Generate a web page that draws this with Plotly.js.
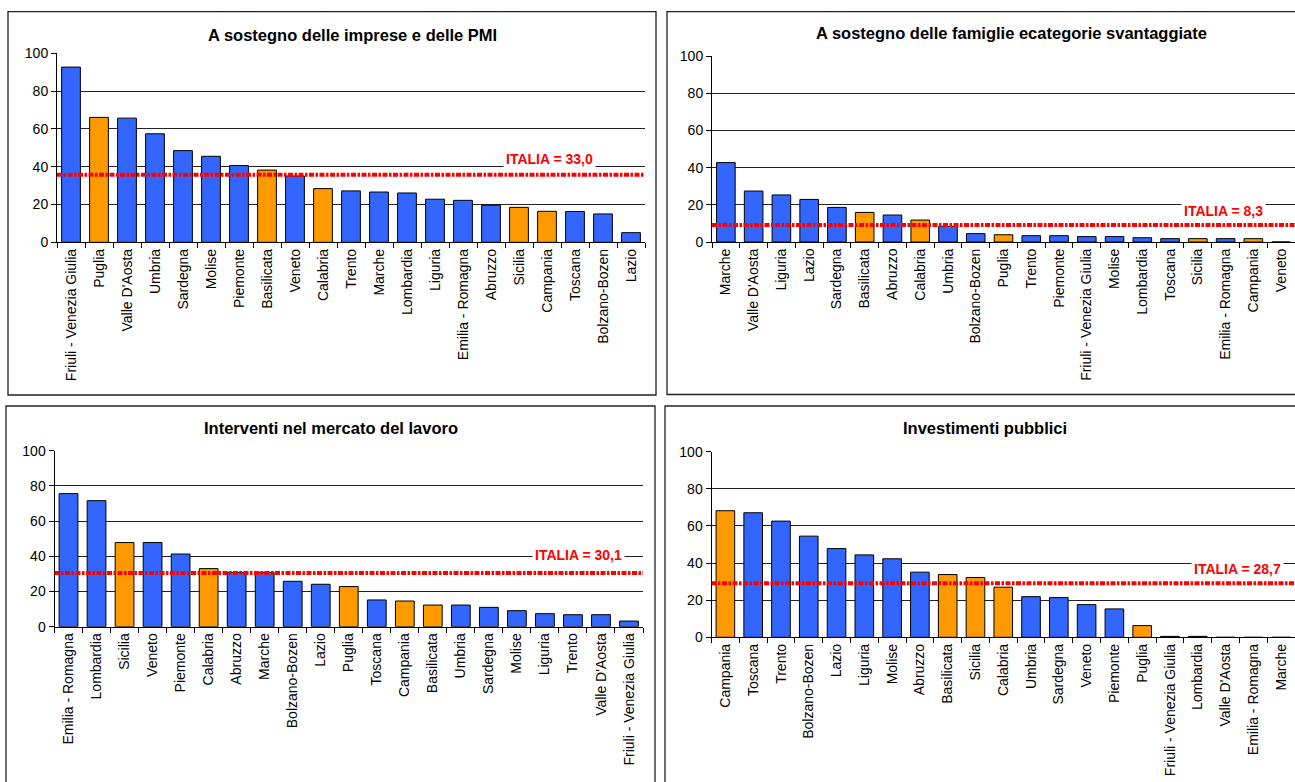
<!DOCTYPE html>
<html>
<head>
<meta charset="utf-8">
<script src="https://cdn.plot.ly/plotly-3.0.1.min.js"></script>
<style>
  html, body { margin: 0; padding: 0; background: #ffffff; }
  #chart { width: 1295px; height: 782px; }
</style>
</head>
<body>
<div id="chart"></div>
<script>
// ---------- DATA ----------
const titles = [
  "A sostegno delle imprese e delle PMI",
  "A sostegno delle famiglie ecategorie svantaggiate",
  "Interventi nel mercato del lavoro",
  "Investimenti pubblici"
];

const regionsImprese = ["Friuli - Venezia Giulia","Puglia","Valle D'Aosta","Umbria","Sardegna","Molise","Piemonte","Basilicata","Veneto","Calabria","Trento","Marche","Lombardia","Liguria","Emilia - Romagna","Abruzzo","Sicilia","Campania","Toscana","Bolzano-Bozen","Lazio"];
const valuesImprese = [92.7, 66.1, 65.7, 57.4, 48.5, 45.5, 40.6, 38.2, 35.1, 28.4, 27.2, 26.6, 26.1, 22.8, 22.2, 19.6, 18.5, 16.4, 16.3, 15.0, 5.1];

const regionsFamiglie = ["Marche","Valle D'Aosta","Liguria","Lazio","Sardegna","Basilicata","Abruzzo","Calabria","Umbria","Bolzano-Bozen","Puglia","Trento","Piemonte","Friuli - Venezia Giulia","Molise","Lombardia","Toscana","Sicilia","Emilia - Romagna","Campania","Veneto"];
const valuesFamiglie = [42.7, 27.4, 25.3, 22.9, 18.6, 15.9, 14.5, 11.8, 8.4, 4.5, 3.9, 3.4, 3.4, 2.9, 2.9, 2.3, 1.8, 1.8, 1.8, 1.8, 0];

const regionsLavoro = ["Emilia - Romagna","Lombardia","Sicilia","Veneto","Piemonte","Calabria","Abruzzo","Marche","Bolzano-Bozen","Lazio","Puglia","Toscana","Campania","Basilicata","Umbria","Sardegna","Molise","Liguria","Trento","Valle D'Aosta","Friuli - Venezia Giulia"];
const valuesLavoro = [75.6, 71.6, 47.8, 47.8, 41.3, 33.0, 30.9, 30.9, 25.8, 24.1, 22.8, 15.2, 14.6, 12.3, 12.3, 11.0, 9.1, 7.4, 6.8, 6.8, 3.2];

const regionsInvestimenti = ["Campania","Toscana","Trento","Bolzano-Bozen","Lazio","Liguria","Molise","Abruzzo","Basilicata","Sicilia","Calabria","Umbria","Sardegna","Veneto","Piemonte","Puglia","Friuli - Venezia Giulia","Lombardia","Valle D'Aosta","Emilia - Romagna","Marche"];
const valuesInvestimenti = [68.2, 67.1, 62.6, 54.5, 47.8, 44.4, 42.3, 35.1, 33.8, 32.2, 27.0, 21.9, 21.4, 17.6, 15.3, 6.3, 0.5, 0.5, 0, 0, 0];

// Regions drawn in orange (Mezzogiorno)
const southRegions = ["Puglia","Basilicata","Calabria","Sicilia","Campania"];

// Italy average: label value and level of the dashed line as drawn
const italiaLabels = ["33,0", "8,3", "30,1", "28,7"];
const italiaLineLevel = [35.8, 9.1, 30.5, 29.1];

const yTickVals = [0, 20, 40, 60, 80, 100];

// ---------- LAYOUT ----------
const W = 1295, H = 782;
const px = x => x / W;
const py = y => 1 - y / H;

const BLUE = "#3366FF", ORANGE = "#FF9900", RED = "#FF0000";
const FONT = "Liberation Sans, Arial, sans-serif";

const panels = [
  { cats: regionsImprese, vals: valuesImprese,
    plot: { x0: 57, x1: 645, yTop: 53.3, yBot: 242.3 },
    box: { x0: 8, x1: 656, y0: 11.7, y1: 395 },
    title: { x: 352, y: 35 },
    label: { x: 549, y: 159 } },
  { cats: regionsFamiglie, vals: valuesFamiglie,
    plot: { x0: 712, x1: 1295, yTop: 56, yBot: 242 },
    box: { x0: 667, x1: 1310, y0: 11.7, y1: 394.5 },
    title: { x: 1012, y: 33 },
    label: { x: 1223, y: 211 } },
  { cats: regionsLavoro, vals: valuesLavoro,
    plot: { x0: 54.5, x1: 643, yTop: 450.7, yBot: 626.7 },
    box: { x0: 6, x1: 655, y0: 406, y1: 800 },
    title: { x: 331, y: 428 },
    label: { x: 578, y: 555 } },
  { cats: regionsInvestimenti, vals: valuesInvestimenti,
    plot: { x0: 711.5, x1: 1295, yTop: 451.7, yBot: 637.3 },
    box: { x0: 665, x1: 1310, y0: 406, y1: 800 },
    title: { x: 985, y: 428 },
    label: { x: 1237, y: 569 } }
];

const data = [];
const layout = {
  width: W, height: H, autosize: false,
  margin: { l: 0, r: 0, t: 0, b: 0, pad: 0 },
  paper_bgcolor: "#ffffff", plot_bgcolor: "#ffffff",
  showlegend: false,
  bargap: 0.33,
  font: { family: FONT, size: 14, color: "#000000" },
  shapes: [], annotations: []
};

panels.forEach((p, i) => {
  const n = i === 0 ? "" : String(i + 1);
  const xa = "x" + n, ya = "y" + n;
  data.push({
    type: "bar",
    x: p.cats, y: p.vals,
    xaxis: xa, yaxis: ya,
    marker: {
      color: p.cats.map(c => southRegions.includes(c) ? ORANGE : BLUE),
      line: { color: "#000000", width: 1 }
    },
    hoverinfo: "x+y"
  });
  layout["xaxis" + n] = {
    domain: [px(p.plot.x0), Math.min(1, px(p.plot.x1))],
    anchor: ya,
    type: "category",
    range: [-0.5, p.cats.length - 0.5],
    showline: true, linecolor: "#000000", linewidth: 1,
    ticks: "outside", tickson: "boundaries", ticklen: 5, tickcolor: "#000000",
    tickangle: -90,
    tickfont: { family: FONT, size: 14, color: "#000000" },
    showgrid: false, zeroline: false, fixedrange: true
  };
  layout["yaxis" + n] = {
    domain: [py(p.plot.yBot), py(p.plot.yTop)],
    anchor: xa,
    range: [0, 100],
    tickvals: yTickVals,
    showline: true, linecolor: "#000000", linewidth: 1,
    ticks: "outside", ticklen: 5, tickcolor: "#000000",
    tickfont: { family: FONT, size: 14, color: "#000000" },
    showgrid: true, gridcolor: "#222222", gridwidth: 1,
    zeroline: false, fixedrange: true
  };
  // panel frame
  layout.shapes.push({
    type: "rect", xref: "paper", yref: "paper",
    x0: px(p.box.x0), x1: px(p.box.x1), y0: py(p.box.y1), y1: py(p.box.y0),
    line: { color: "#222222", width: 1.3 }, fillcolor: "rgba(0,0,0,0)", layer: "below"
  });
  // Italy average line
  layout.shapes.push({
    type: "line", xref: xa + " domain", yref: ya,
    x0: 0, x1: 1, y0: italiaLineLevel[i], y1: italiaLineLevel[i],
    line: { color: RED, width: 4, dash: "5px,1.5px,2.5px,1.5px" }, layer: "above"
  });
  // title
  layout.annotations.push({
    xref: "paper", yref: "paper", x: px(p.title.x), y: py(p.title.y),
    xanchor: "center", yanchor: "middle", showarrow: false,
    text: "<b>" + titles[i] + "</b>",
    font: { family: FONT, size: 16.5, color: "#000000" }
  });
  // ITALIA label
  layout.annotations.push({
    xref: "paper", yref: "paper", x: px(p.label.x), y: py(p.label.y),
    xanchor: "center", yanchor: "middle", showarrow: false,
    text: "<b>ITALIA = " + italiaLabels[i] + "</b>",
    font: { family: FONT, size: 14, color: RED },
    bgcolor: "#ffffff", borderpad: 2
  });
});

Plotly.newPlot("chart", data, layout, { displayModeBar: false, staticPlot: true });
</script>
</body>
</html>
